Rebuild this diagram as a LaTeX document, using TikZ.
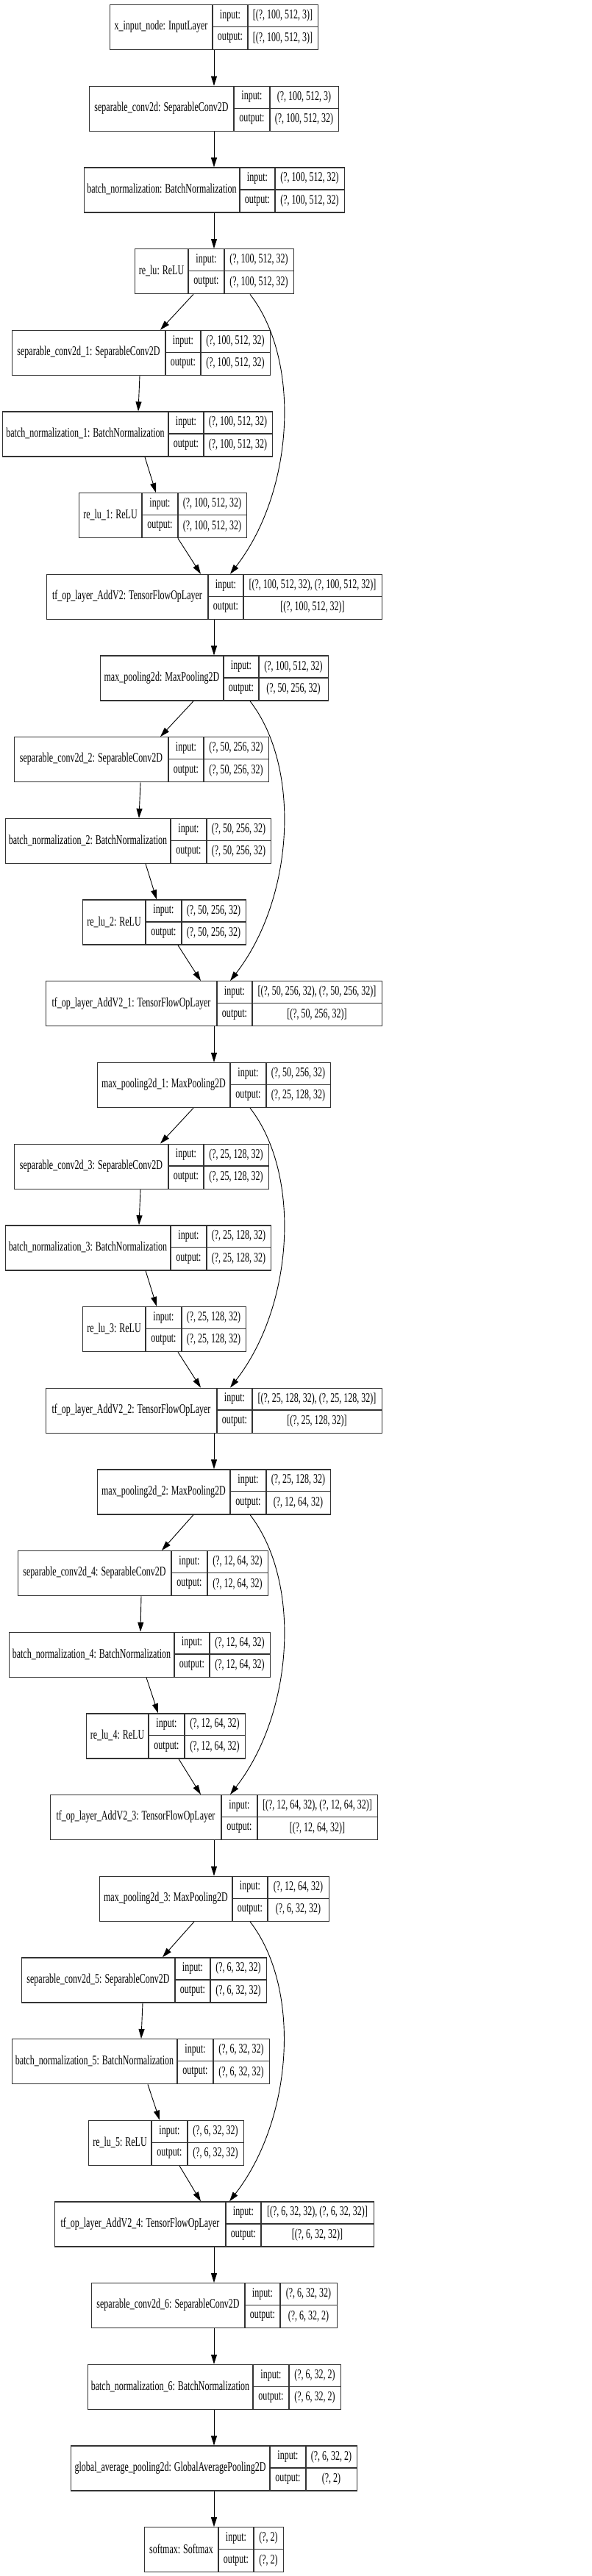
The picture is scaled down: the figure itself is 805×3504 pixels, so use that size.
\documentclass[tikz,border=0pt]{standalone}
\usepackage{fontspec}
\setmainfont{Liberation Serif}[FakeStretch=0.667]
\usetikzlibrary{arrows.meta}

% one keras layer: id, rank, left, div1, div2, right, name, input, output
\newcommand{\kerasnode}[9]{%
  \pgfmathsetmacro{\ytop}{-(6+110.68*#2)}
  \node[layerbox, minimum width={(#6-#3)*1pt}, anchor=north west] (#1) at (#3,\ytop) {};
  \draw[cell] (#4,\ytop) -- ++(0,-61);
  \draw[cell] (#5,\ytop) -- ++(0,-61);
  \draw[cell] (#4,\ytop-30.5) -- (#6,\ytop-30.5);
  \node[lbl] (#1-name) at ({(#3+#4)/2},\ytop-30.5) {#7};
  \node[lbl] (#1-inl) at ({(#4+#5)/2},\ytop-15.25) {input:};
  \node[lbl] (#1-outl) at ({(#4+#5)/2},\ytop-45.75) {output:};
  \node[lbl] (#1-in) at ({(#5+#6)/2},\ytop-15.25) {#8};
  \node[lbl] (#1-out) at ({(#5+#6)/2},\ytop-45.75) {#9};
}

\begin{document}
\begin{tikzpicture}[x=1pt, y=1pt,
    layerbox/.style={rectangle, draw=black!80, line width=1.3pt, minimum height=61pt, inner sep=0pt},
    cell/.style={draw=black!80, line width=1.3pt},
    lbl/.style={inner sep=0pt, font=\fontsize{18}{20}\selectfont},
    flow/.style={black, line width=0.9pt, -{Triangle[length=13pt,width=8pt]}}]

    \useasboundingbox (0,0) rectangle (805,-3504);

    \kerasnode{inp}{0}{149}{289}{337}{432}{x\_input\_node: InputLayer}{[(?, 100, 512, 3)]}{[(?, 100, 512, 3)]}
    \kerasnode{sep}{1}{121}{318}{367}{460}{separable\_conv2d: SeparableConv2D}{(?, 100, 512, 3)}{(?, 100, 512, 32)}
    \kerasnode{bn}{2}{114}{326}{374}{468}{batch\_normalization: BatchNormalization}{(?, 100, 512, 32)}{(?, 100, 512, 32)}
    \kerasnode{relu}{3}{183}{256}{305}{399}{re\_lu: ReLU}{(?, 100, 512, 32)}{(?, 100, 512, 32)}

    \kerasnode{sep1}{4}{16}{225}{273}{367}{separable\_conv2d\_1: SeparableConv2D}{(?, 100, 512, 32)}{(?, 100, 512, 32)}
    \kerasnode{bn1}{5}{3}{229}{277}{370}{batch\_normalization\_1: BatchNormalization}{(?, 100, 512, 32)}{(?, 100, 512, 32)}
    \kerasnode{relu1}{6}{107}{193}{242}{335}{re\_lu\_1: ReLU}{(?, 100, 512, 32)}{(?, 100, 512, 32)}
    \kerasnode{add}{7}{63}{283}{331}{519}{tf\_op\_layer\_AddV2: TensorFlowOpLayer}{[(?, 100, 512, 32), (?, 100, 512, 32)]}{[(?, 100, 512, 32)]}
    \kerasnode{mp}{8}{136}{304}{352}{446}{max\_pooling2d: MaxPooling2D}{(?, 100, 512, 32)}{(?, 50, 256, 32)}

    \kerasnode{sep2}{9}{19}{229}{277}{365}{separable\_conv2d\_2: SeparableConv2D}{(?, 50, 256, 32)}{(?, 50, 256, 32)}
    \kerasnode{bn2}{10}{7}{232}{281}{368}{batch\_normalization\_2: BatchNormalization}{(?, 50, 256, 32)}{(?, 50, 256, 32)}
    \kerasnode{relu2}{11}{112}{198}{247}{334}{re\_lu\_2: ReLU}{(?, 50, 256, 32)}{(?, 50, 256, 32)}
    \kerasnode{add1}{12}{62}{295}{343}{519}{tf\_op\_layer\_AddV2\_1: TensorFlowOpLayer}{[(?, 50, 256, 32), (?, 50, 256, 32)]}{[(?, 50, 256, 32)]}
    \kerasnode{mp1}{13}{132}{313}{362}{449}{max\_pooling2d\_1: MaxPooling2D}{(?, 50, 256, 32)}{(?, 25, 128, 32)}

    \kerasnode{sep3}{14}{19}{229}{277}{365}{separable\_conv2d\_3: SeparableConv2D}{(?, 25, 128, 32)}{(?, 25, 128, 32)}
    \kerasnode{bn3}{15}{7}{232}{281}{368}{batch\_normalization\_3: BatchNormalization}{(?, 25, 128, 32)}{(?, 25, 128, 32)}
    \kerasnode{relu3}{16}{112}{198}{247}{334}{re\_lu\_3: ReLU}{(?, 25, 128, 32)}{(?, 25, 128, 32)}
    \kerasnode{add2}{17}{62}{295}{343}{519}{tf\_op\_layer\_AddV2\_2: TensorFlowOpLayer}{[(?, 25, 128, 32), (?, 25, 128, 32)]}{[(?, 25, 128, 32)]}
    \kerasnode{mp2}{18}{132}{313}{362}{449}{max\_pooling2d\_2: MaxPooling2D}{(?, 25, 128, 32)}{(?, 12, 64, 32)}

    \kerasnode{sep4}{19}{24}{233}{282}{364}{separable\_conv2d\_4: SeparableConv2D}{(?, 12, 64, 32)}{(?, 12, 64, 32)}
    \kerasnode{bn4}{20}{12}{237}{285}{367}{batch\_normalization\_4: BatchNormalization}{(?, 12, 64, 32)}{(?, 12, 64, 32)}
    \kerasnode{relu4}{21}{117}{202}{251}{333}{re\_lu\_4: ReLU}{(?, 12, 64, 32)}{(?, 12, 64, 32)}
    \kerasnode{add3}{22}{68}{301}{350}{513}{tf\_op\_layer\_AddV2\_3: TensorFlowOpLayer}{[(?, 12, 64, 32), (?, 12, 64, 32)]}{[(?, 12, 64, 32)]}
    \kerasnode{mp3}{23}{135}{316}{364}{447}{max\_pooling2d\_3: MaxPooling2D}{(?, 12, 64, 32)}{(?, 6, 32, 32)}

    \kerasnode{sep5}{24}{29}{238}{286}{362}{separable\_conv2d\_5: SeparableConv2D}{(?, 6, 32, 32)}{(?, 6, 32, 32)}
    \kerasnode{bn5}{25}{16}{241}{290}{366}{batch\_normalization\_5: BatchNormalization}{(?, 6, 32, 32)}{(?, 6, 32, 32)}
    \kerasnode{relu5}{26}{120}{206}{255}{331}{re\_lu\_5: ReLU}{(?, 6, 32, 32)}{(?, 6, 32, 32)}
    \kerasnode{add4}{27}{74}{307}{355}{508}{tf\_op\_layer\_AddV2\_4: TensorFlowOpLayer}{[(?, 6, 32, 32), (?, 6, 32, 32)]}{[(?, 6, 32, 32)]}

    \kerasnode{sep6}{28}{124}{333}{381}{458}{separable\_conv2d\_6: SeparableConv2D}{(?, 6, 32, 32)}{(?, 6, 32, 2)}
    \kerasnode{bn6}{29}{119}{344}{393}{463}{batch\_normalization\_6: BatchNormalization}{(?, 6, 32, 2)}{(?, 6, 32, 2)}
    \kerasnode{gap}{30}{96}{367}{416}{485}{global\_average\_pooling2d: GlobalAveragePooling2D}{(?, 6, 32, 2)}{(?, 2)}
    \kerasnode{soft}{31}{196}{297}{345}{385}{softmax: Softmax}{(?, 2)}{(?, 2)}

    % stem
    \draw[flow] (291,0 |- inp.south) -- (291,0 |- sep.north);
    \draw[flow] (291,0 |- sep.south) -- (291,0 |- bn.north);
    \draw[flow] (291,0 |- bn.south) -- (291,0 |- relu.north);

    % block 1
    \draw[flow] (263,0 |- relu.south) -- (218,0 |- sep1.north);
    \draw[flow] (190,0 |- sep1.south) -- (188,0 |- bn1.north);
    \draw[flow] (197,0 |- bn1.south) -- (212,0 |- relu1.north);
    \draw[flow] (242,0 |- relu1.south) -- (273,0 |- add.north);
    \draw[flow] (340,0 |- relu.south) .. controls +(70,-90) and +(87,112) .. (313,0 |- add.north);
    \draw[flow] (291,0 |- add.south) -- (291,0 |- mp.north);

    % block 2
    \draw[flow] (263,0 |- mp.south) -- (218,0 |- sep2.north);
    \draw[flow] (191,0 |- sep2.south) -- (189,0 |- bn2.north);
    \draw[flow] (198,0 |- bn2.south) -- (213,0 |- relu2.north);
    \draw[flow] (242,0 |- relu2.south) -- (273,0 |- add1.north);
    \draw[flow] (340,0 |- mp.south) .. controls +(70,-90) and +(87,112) .. (313,0 |- add1.north);
    \draw[flow] (291,0 |- add1.south) -- (291,0 |- mp1.north);

    % block 3
    \draw[flow] (263,0 |- mp1.south) -- (218,0 |- sep3.north);
    \draw[flow] (191,0 |- sep3.south) -- (189,0 |- bn3.north);
    \draw[flow] (198,0 |- bn3.south) -- (213,0 |- relu3.north);
    \draw[flow] (242,0 |- relu3.south) -- (273,0 |- add2.north);
    \draw[flow] (340,0 |- mp1.south) .. controls +(70,-90) and +(87,112) .. (313,0 |- add2.north);
    \draw[flow] (291,0 |- add2.south) -- (291,0 |- mp2.north);

    % block 4
    \draw[flow] (263,0 |- mp2.south) -- (220,0 |- sep4.north);
    \draw[flow] (192,0 |- sep4.south) -- (191,0 |- bn4.north);
    \draw[flow] (199,0 |- bn4.south) -- (215,0 |- relu4.north);
    \draw[flow] (243,0 |- relu4.south) -- (273,0 |- add3.north);
    \draw[flow] (340,0 |- mp2.south) .. controls +(70,-90) and +(87,112) .. (313,0 |- add3.north);
    \draw[flow] (291,0 |- add3.south) -- (291,0 |- mp3.north);

    % block 5
    \draw[flow] (264,0 |- mp3.south) -- (221,0 |- sep5.north);
    \draw[flow] (194,0 |- sep5.south) -- (192,0 |- bn5.north);
    \draw[flow] (201,0 |- bn5.south) -- (217,0 |- relu5.north);
    \draw[flow] (244,0 |- relu5.south) -- (273,0 |- add4.north);
    \draw[flow] (340,0 |- mp3.south) .. controls +(70,-90) and +(87,112) .. (312,0 |- add4.north);

    % head
    \draw[flow] (291,0 |- add4.south) -- (291,0 |- sep6.north);
    \draw[flow] (291,0 |- sep6.south) -- (291,0 |- bn6.north);
    \draw[flow] (291,0 |- bn6.south) -- (291,0 |- gap.north);
    \draw[flow] (291,0 |- gap.south) -- (291,0 |- soft.north);
\end{tikzpicture}
\end{document}
